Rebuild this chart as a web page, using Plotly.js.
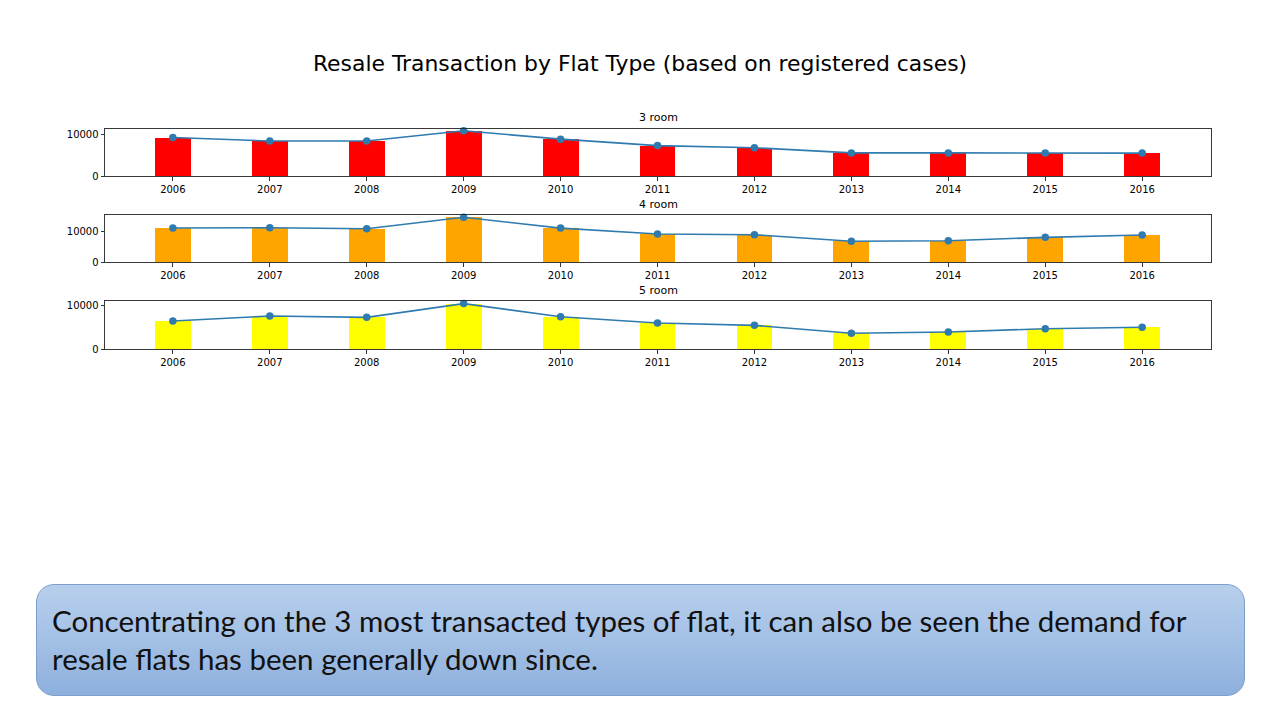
<!DOCTYPE html>
<html>
<head>
<meta charset="utf-8">
<script src="https://cdn.plot.ly/plotly-3.0.1.min.js"></script>
<style>
html,body{margin:0;padding:0;background:#fff;}
#wrap{position:relative;width:1280px;height:720px;}
#box{position:absolute;left:36px;top:584px;width:1207px;height:110px;border-radius:18px;
  background:linear-gradient(to bottom,#b7cfec 0%,#a3c0e5 50%,#8eb0dd 100%);border:1px solid #7e9fcc;}
#chart{position:absolute;left:0;top:0;width:1280px;height:720px;}
</style>
</head>
<body>
<div id="wrap">
<div id="box"></div>
<div id="chart"></div>
</div>
<script>
const years = [2006,2007,2008,2009,2010,2011,2012,2013,2014,2015,2016];
const room3 = [9290,8450,8450,10900,8900,7350,6850,5600,5600,5600,5560];
const room4 = [11060,11150,10850,14550,11050,9130,8900,6800,6970,8060,8800];
const room5 = [6430,7560,7270,10400,7420,5980,5450,3650,3930,4690,5000];
const panelTitles = ['3 room','4 room','5 room'];
const barColors = ['#ff0000','#ffa500','#ffff00'];
const series = [room3, room4, room5];
const mainTitle = 'Resale Transaction by Flat Type (based on registered cases)';
const note = 'Concentrating on the 3 most transacted types of flat, it can also be seen the demand for<br>resale flats has been generally down since.';

const H = 720, W = 1280;
const domains = [[128.5,176.3],[215,262.3],[301.3,349.3]];
const traces = [];
const layout = {
  width: W, height: H,
  margin: {l:0,r:0,t:0,b:0},
  paper_bgcolor: 'rgba(0,0,0,0)',
  plot_bgcolor: '#ffffff',
  showlegend: false,
  font: {family: 'DejaVu Sans', size: 10, color: '#000'},
  title: {text: mainTitle, font: {family:'DejaVu Sans', size: 21.9, color:'#000'}, x: 0.5, xanchor:'center', y: 1-63.5/H, yanchor:'middle'},
  annotations: [],
  bargap: 0
};
series.forEach((vals, i) => {
  const n = i === 0 ? '' : String(i+1);
  const ymax = Math.max(...vals) * 1.05;
  traces.push({type:'bar', x: years, y: vals, width: 0.37, marker:{color: barColors[i], line:{width:0}}, xaxis:'x'+n, yaxis:'y'+n, hoverinfo:'skip'});
  traces.push({type:'scatter', mode:'lines+markers', x: years, y: vals, line:{color:'#2f7bb0', width:1.6}, marker:{color:'#2f7bb0', size:7.5}, xaxis:'x'+n, yaxis:'y'+n, cliponaxis:false});
  const [top, bot] = domains[i];
  layout['xaxis'+n] = {
    domain: [105/W, 1211/W], range: [2005.3, 2016.71], anchor: 'y'+n,
    tickvals: years, ticktext: years.map(String), ticks:'outside', ticklen:3.5, tickwidth:0.8, tickcolor:'#000',
    showline:true, linecolor:'#222', linewidth:0.9, mirror:true, showgrid:false, zeroline:false,
    tickfont:{family:'DejaVu Sans', size:10, color:'#000'}, fixedrange:true
  };
  layout['yaxis'+n] = {
    domain: [1-bot/H, 1-top/H], range: [0, ymax], anchor: 'x'+n,
    tickvals:[0,10000], ticktext:['0','10000'], ticks:'outside', ticklen:3.5, tickwidth:0.8, tickcolor:'#000',
    showline:true, linecolor:'#222', linewidth:0.9, mirror:true, showgrid:false, zeroline:false,
    tickfont:{family:'DejaVu Sans', size:10, color:'#000'}, fixedrange:true
  };
  layout.annotations.push({text: panelTitles[i], xref:'paper', yref:'paper', x: 658/W, y: 1-(top-11)/H, xanchor:'center', yanchor:'middle', showarrow:false, font:{family:'DejaVu Sans', size:11, color:'#000'}});
});
layout.annotations.push({text: note, xref:'paper', yref:'paper', x: 50/W, y: 1-639/H, xanchor:'left', yanchor:'middle', align:'left', showarrow:false, font:{family:'Lato', size:29.5, color:'#111'}});
Plotly.newPlot('chart', traces, layout, {staticPlot:true, displayModeBar:false});
</script>
</body>
</html>
